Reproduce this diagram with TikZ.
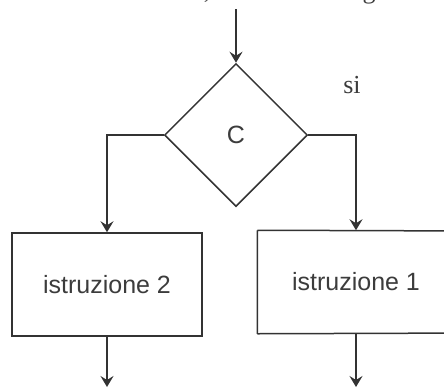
\documentclass[tikz,border=0pt]{standalone}
\usepackage{fontspec}
\setmainfont{Liberation Serif}
\newfontfamily\flowsans{Liberation Sans}
\usetikzlibrary{arrows.meta,shapes.geometric}
\definecolor{lineink}{HTML}{333333}
\definecolor{textink}{HTML}{3C3C3C}
\tikzset{
  flowline/.style={line width=1.5pt, draw=lineink, -{Stealth[length=11pt,width=13pt,inset=4pt]}},
  plainline/.style={line width=1.5pt, draw=lineink},
  instrbox/.style={draw=lineink, line width=1.5pt, minimum width=190pt, minimum height=103pt,
    font=\flowsans\fontsize{25}{28}\selectfont, text=textink, inner sep=0pt},
  testbox/.style={diamond, aspect=1, draw=lineink, line width=1.5pt, minimum width=143pt,
    minimum height=143pt, inner sep=0pt, font=\flowsans\fontsize{25}{28}\selectfont, text=textink},
}
\begin{document}
\begin{tikzpicture}[x=1pt,y=-1pt]
  \useasboundingbox (0,0) rectangle (444,389);
  \clip (0,0) rectangle (444,389);
  % fragments of the caption line above
  \node[anchor=base, font=\fontsize{26}{30}\selectfont, text=textink, inner sep=0pt] (cm) at (207,-2) {,};
  \node[anchor=base, font=\fontsize{26}{30}\selectfont, text=textink, inner sep=0pt] (gg) at (369,-2) {g};
  % decision
  \coordinate (in) at (236,9);
  \node[testbox] (c) at (236,135) {C};
  \draw[flowline] (in) -- (c.north);
  \node[font=\fontsize{26}{30}\selectfont, text=textink, inner sep=0pt] (si) at (352,85) {si};
  % branches
  \node[instrbox] (b2) at (107,284.5) {istruzione 2};
  % right box runs past the right edge
  \node[instrbox, draw=none, minimum width=196pt, minimum height=102pt] (b1) at (356,282) {istruzione 1};
  \draw[plainline] (b1.north west) -- (480,231) (b1.south west) -- (480,333) (b1.north west) -- (b1.south west);
  \draw[flowline] (c.west) -| (b2.north);
  \draw[flowline] (c.east) -| (b1.north);
  % outgoing arrows
  \coordinate (o2) at (107,387);
  \coordinate (o1) at (356,387);
  \draw[flowline] (b2.south) -- (o2);
  \draw[flowline] (b1.south) -- (o1);
\end{tikzpicture}
\end{document}
